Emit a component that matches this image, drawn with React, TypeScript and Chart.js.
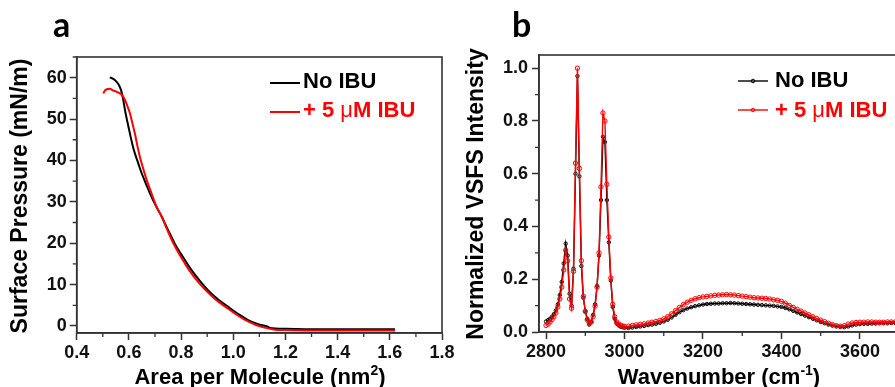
import React, { useEffect, useRef } from "react";
import { Chart, registerables } from "chart.js";

Chart.register(...registerables);

// ---------- Panel a: surface pressure isotherms ----------
const areaNoIbu = [
  0.527, 0.54, 0.553, 0.562, 0.57, 0.578, 0.585, 0.594, 0.604, 0.613, 0.623, 0.636,
  0.649, 0.665, 0.681, 0.703, 0.726, 0.751, 0.776, 0.808, 0.84, 0.872, 0.904, 0.942,
  0.981, 1.019, 1.057, 1.095, 1.134, 1.14, 1.2, 1.3, 1.4, 1.5, 1.62,
];
const pressureNoIbu = [
  60.1, 59.7, 59.0, 58.2, 57.0, 54.8, 52.2, 49.4, 46.5, 44.0, 41.7, 39.3,
  36.9, 34.4, 32.0, 29.1, 26.4, 23.1, 19.9, 16.6, 13.5, 10.9, 8.6, 6.4,
  4.6, 2.9, 1.4, 0.4, -0.2, -0.5, -0.7, -0.8, -0.8, -0.8, -0.8,
];
const areaIbu = [
  0.502, 0.508, 0.515, 0.527, 0.54, 0.553, 0.566, 0.576, 0.585, 0.594, 0.604, 0.613,
  0.623, 0.632, 0.642, 0.655, 0.668, 0.687, 0.706, 0.726, 0.748, 0.771, 0.8, 0.831,
  0.862, 0.895, 0.932, 0.971, 1.009, 1.047, 1.085, 1.12, 1.16, 1.2, 1.3, 1.4, 1.5, 1.62,
];
const pressureIbu = [
  56.2, 56.9, 57.2, 57.3, 56.9, 56.6, 56.2, 55.6, 54.6, 53.2, 51.4, 49.1,
  46.5, 43.7, 40.9, 38.0, 35.3, 32.0, 28.8, 26.4, 23.1, 19.9, 16.6, 13.5,
  10.9, 8.6, 6.4, 4.6, 2.9, 1.4, 0.3, -0.4, -0.9, -1.0, -1.1, -1.1, -1.1, -1.1,
];

// ---------- Panel b: VSFS spectra ----------
const wavenumbers = [
  2800, 2805, 2810, 2815, 2820, 2825, 2830, 2835, 2840, 2845,
  2850, 2855, 2860, 2865, 2870, 2875, 2880, 2885, 2890, 2895,
  2900, 2905, 2910, 2915, 2920, 2925, 2930, 2935, 2940, 2945,
  2950, 2955, 2960, 2965, 2970, 2975, 2980, 2985, 2990, 2995,
  3000, 3010, 3020, 3030, 3040, 3050, 3060, 3070, 3080, 3090,
  3100, 3110, 3120, 3130, 3140, 3150, 3160, 3170, 3180, 3190,
  3200, 3210, 3220, 3230, 3240, 3250, 3260, 3270, 3280, 3290,
  3300, 3310, 3320, 3330, 3340, 3350, 3360, 3370, 3380, 3390,
  3400, 3410, 3420, 3430, 3440, 3450, 3460, 3470, 3480, 3490,
  3500, 3510, 3520, 3530, 3540, 3550, 3560, 3570, 3580, 3590,
  3600, 3610, 3620, 3630, 3640, 3650, 3660, 3670, 3680, 3690,
  3700,
];
const intensityNoIbu = [
  0.040, 0.045, 0.050, 0.058, 0.068, 0.082, 0.105, 0.140, 0.190, 0.260,
  0.335, 0.290, 0.145, 0.100, 0.240, 0.600, 0.970, 0.590, 0.250, 0.130,
  0.080, 0.050, 0.028, 0.038, 0.065, 0.105, 0.175, 0.290, 0.500, 0.740,
  0.720, 0.500, 0.340, 0.195, 0.095, 0.050, 0.032, 0.025, 0.020, 0.018,
  0.016, 0.015, 0.017, 0.019, 0.021, 0.023, 0.026, 0.028, 0.031, 0.035,
  0.040, 0.046, 0.055, 0.065, 0.075, 0.083, 0.089, 0.094, 0.098, 0.101,
  0.104, 0.106, 0.107, 0.108, 0.108, 0.109, 0.109, 0.110, 0.109, 0.108,
  0.107, 0.106, 0.105, 0.104, 0.103, 0.102, 0.101, 0.100, 0.099, 0.097,
  0.095, 0.091, 0.086, 0.080, 0.074, 0.068, 0.062, 0.056, 0.050, 0.044,
  0.038, 0.033, 0.028, 0.024, 0.021, 0.019, 0.018, 0.021, 0.025, 0.028,
  0.030, 0.031, 0.031, 0.032, 0.032, 0.033, 0.033, 0.033, 0.034, 0.034,
  0.034,
];
const intensityIbu = [
  0.025, 0.030, 0.038, 0.047, 0.058, 0.072, 0.095, 0.125, 0.170, 0.235,
  0.310, 0.270, 0.125, 0.090, 0.230, 0.640, 1.000, 0.620, 0.270, 0.135,
  0.078, 0.046, 0.035, 0.038, 0.058, 0.098, 0.170, 0.300, 0.550, 0.830,
  0.800, 0.560, 0.360, 0.205, 0.105, 0.058, 0.038, 0.030, 0.026, 0.023,
  0.021, 0.022, 0.025, 0.027, 0.029, 0.031, 0.034, 0.037, 0.040, 0.044,
  0.050, 0.058, 0.069, 0.081, 0.093, 0.104, 0.113, 0.120, 0.126, 0.130,
  0.133, 0.135, 0.137, 0.139, 0.140, 0.141, 0.142, 0.141, 0.140, 0.138,
  0.136, 0.134, 0.132, 0.130, 0.129, 0.128, 0.127, 0.125, 0.122, 0.120,
  0.116, 0.109, 0.101, 0.093, 0.086, 0.079, 0.072, 0.065, 0.058, 0.051,
  0.045, 0.039, 0.033, 0.028, 0.024, 0.022, 0.024, 0.030, 0.034, 0.036,
  0.037, 0.037, 0.038, 0.038, 0.037, 0.037, 0.037, 0.038, 0.038, 0.038,
  0.038,
];

const labelNoIbu = "No IBU";
const labelIbu = "+ 5 μM IBU";

// ---------- styling ----------
const SANS = '"Liberation Sans", Arial, Helvetica, sans-serif';
const AXIS = "#333333";
const RED = "#ff0000";
const BLACK = "#000000";

type Part = { t: string; sup?: boolean; normal?: boolean };

function partFont(p: Part, size: number) {
  const s = p.sup ? Math.round(size * 0.62) : size;
  return `${p.normal ? "normal" : "bold"} ${s}px ${SANS}`;
}
function measureParts(ctx: CanvasRenderingContext2D, parts: Part[], size: number) {
  let w = 0;
  for (const p of parts) {
    ctx.font = partFont(p, size);
    w += ctx.measureText(p.t).width;
  }
  return w;
}
function drawParts(ctx: CanvasRenderingContext2D, parts: Part[], x: number, y: number, size: number, color: string) {
  ctx.fillStyle = color;
  ctx.textAlign = "left";
  ctx.textBaseline = "alphabetic";
  let cx = x;
  for (const p of parts) {
    ctx.font = partFont(p, size);
    ctx.fillText(p.t, cx, p.sup ? y - size * 0.42 : y);
    cx += ctx.measureText(p.t).width;
  }
}

// split legend label so μ is drawn in a lighter (symbol-like) weight
function labelParts(label: string): Part[] {
  const out: Part[] = [];
  let buf = "";
  for (const ch of label) {
    if (ch === "μ") {
      if (buf) out.push({ t: buf });
      buf = "";
      out.push({ t: ch, normal: true });
    } else buf += ch;
  }
  if (buf) out.push({ t: buf });
  return out;
}

function minorValues(scale: any): number[] {
  const ticks = scale.ticks.map((t: any) => t.value);
  const res: number[] = [];
  if (ticks.length < 2) return res;
  const step = ticks[1] - ticks[0];
  const first = ticks[0] - step / 2;
  if (first >= scale.min) res.push(first);
  for (let i = 0; i < ticks.length - 1; i++) res.push((ticks[i] + ticks[i + 1]) / 2);
  const last = ticks[ticks.length - 1] + step / 2;
  if (last <= scale.max) res.push(last);
  return res;
}

const decorPlugin = {
  id: "decor",
  afterDraw(chart: any, _args: any, opts: any) {
    const ctx: CanvasRenderingContext2D = chart.ctx;
    const a = chart.chartArea;
    ctx.save();
    // frame
    ctx.strokeStyle = AXIS;
    ctx.lineWidth = 1.6;
    ctx.strokeRect(a.left, a.top, a.right - a.left, a.bottom - a.top);
    // minor ticks
    const xs = chart.scales.x;
    const ys = chart.scales.y;
    ctx.lineWidth = 1.3;
    ctx.beginPath();
    for (const v of minorValues(xs)) {
      const p = xs.getPixelForValue(v);
      ctx.moveTo(p, a.bottom);
      ctx.lineTo(p, a.bottom + 4);
    }
    for (const v of minorValues(ys)) {
      const p = ys.getPixelForValue(v);
      ctx.moveTo(a.left - 4, p);
      ctx.lineTo(a.left, p);
    }
    ctx.stroke();

    // panel letter
    ctx.fillStyle = "#000";
    ctx.font = `bold 34px Lato, "Open Sans", ${SANS}`;
    ctx.textAlign = "left";
    ctx.textBaseline = "alphabetic";
    ctx.fillText(opts.letter, opts.letterX, opts.letterY);

    // x title
    const xt = opts.xTitle;
    const wx = measureParts(ctx, xt.parts, xt.size);
    drawParts(ctx, xt.parts, xt.cx - wx / 2, xt.baseline, xt.size, "#000");
    // y title (rotated)
    const yt = opts.yTitle;
    const wy = measureParts(ctx, yt.parts, yt.size);
    ctx.save();
    ctx.translate(yt.baseline, yt.cy);
    ctx.rotate(-Math.PI / 2);
    drawParts(ctx, yt.parts, -wy / 2, 0, yt.size, "#000");
    ctx.restore();

    // legend
    const lg = opts.legend;
    chart.data.datasets.forEach((ds: any, i: number) => {
      const item = lg.items[i];
      ctx.strokeStyle = ds.borderColor;
      ctx.lineWidth = ds.borderWidth;
      ctx.beginPath();
      ctx.moveTo(lg.x0, item.lineY);
      ctx.lineTo(lg.x1, item.lineY);
      ctx.stroke();
      if (lg.marker) {
        ctx.lineWidth = 1;
        ctx.beginPath();
        ctx.arc((lg.x0 + lg.x1) / 2, item.lineY, 1.8, 0, Math.PI * 2);
        ctx.stroke();
      }
      drawParts(ctx, labelParts(ds.label), lg.textX, item.baseline, lg.size, ds.borderColor);
    });
    ctx.restore();
  },
};

const tickFont = { family: SANS, size: 18, weight: "bold" as const };

function pts(xs: number[], ys: number[]) {
  return xs.map((x, i) => ({ x, y: ys[i] }));
}

export default function App() {
  const leftRef = useRef<HTMLCanvasElement>(null);
  const rightRef = useRef<HTMLCanvasElement>(null);

  useEffect(() => {
    const left = new Chart(leftRef.current!, {
      type: "line",
      data: {
        datasets: [
          {
            label: labelNoIbu,
            data: pts(areaNoIbu, pressureNoIbu),
            borderColor: BLACK,
            borderWidth: 2,
            pointRadius: 0,
            cubicInterpolationMode: "monotone",
            order: 1,
          },
          {
            label: labelIbu,
            data: pts(areaIbu, pressureIbu),
            borderColor: RED,
            borderWidth: 2,
            pointRadius: 0,
            cubicInterpolationMode: "monotone",
            order: 0,
          },
        ],
      },
      options: {
        responsive: false,
        maintainAspectRatio: false,
        animation: false,
        events: [],
        layout: { padding: { top: 57, right: 20, left: 0, bottom: 0 } },
        plugins: {
          legend: { display: false },
          tooltip: { enabled: false },
          decor: {
            letter: "a",
            letterX: 53,
            letterY: 37,
            xTitle: { parts: [{ t: "Area per Molecule (nm" }, { t: "2", sup: true }, { t: ")" }], size: 22, cx: 260, baseline: 384 },
            yTitle: { parts: [{ t: "Surface Pressure (mN/m)" }], size: 23, baseline: 27, cy: 196 },
            legend: {
              x0: 270, x1: 300, textX: 303, size: 22, marker: false,
              items: [
                { lineY: 83, baseline: 88 },
                { lineY: 112, baseline: 117 },
              ],
            },
          },
        } as any,
        scales: {
          x: {
            type: "linear",
            min: 0.4,
            max: 1.8,
            afterFit: (s: any) => { s.height = 54; },
            ticks: {
              stepSize: 0.2,
              includeBounds: false,
              font: tickFont,
              color: "#111",
              padding: 2,
              maxRotation: 0,
              callback: (v: any) => Number(v).toFixed(1),
            },
            grid: { display: true, drawOnChartArea: false, drawTicks: true, tickLength: 7, tickColor: AXIS, tickWidth: 1.5 },
            border: { display: true, color: AXIS, width: 1.6 },
          },
          y: {
            type: "linear",
            min: -1.7,
            max: 65,
            afterFit: (s: any) => { s.width = 76.7; },
            ticks: {
              stepSize: 10,
              includeBounds: false,
              font: tickFont,
              color: "#111",
              padding: 3,
              callback: (v: any) => String(Math.round(Number(v))),
            },
            grid: { display: true, drawOnChartArea: false, drawTicks: true, tickLength: 7, tickColor: AXIS, tickWidth: 1.5 },
            border: { display: true, color: AXIS, width: 1.6 },
          },
        },
      },
      plugins: [decorPlugin as any],
    } as any);

    const right = new Chart(rightRef.current!, {
      type: "line",
      data: {
        datasets: [
          {
            label: labelNoIbu,
            data: pts(wavenumbers, intensityNoIbu),
            borderColor: BLACK,
            borderWidth: 1.4,
            pointRadius: 1.7,
            pointBorderWidth: 1,
            pointBorderColor: BLACK,
            pointBackgroundColor: "rgba(255,255,255,0)",
            tension: 0,
            order: 1,
          },
          {
            label: labelIbu,
            data: pts(wavenumbers, intensityIbu),
            borderColor: RED,
            borderWidth: 1.4,
            pointRadius: 2.2,
            pointBorderWidth: 1,
            pointBorderColor: RED,
            pointBackgroundColor: "rgba(255,255,255,0)",
            tension: 0,
            order: 0,
          },
        ],
      },
      options: {
        responsive: false,
        maintainAspectRatio: false,
        animation: false,
        events: [],
        layout: { padding: { top: 55, right: 1, left: 0, bottom: 0 } },
        plugins: {
          legend: { display: false },
          tooltip: { enabled: false },
          decor: {
            letter: "b",
            letterX: 62,
            letterY: 37,
            xTitle: { parts: [{ t: "Wavenumber (cm" }, { t: "-1", sup: true }, { t: ")" }], size: 22, cx: 269, baseline: 384 },
            yTitle: { parts: [{ t: "Normalized VSFS Intensity" }], size: 23, baseline: 33, cy: 194 },
            legend: {
              x0: 288, x1: 318, textX: 325, size: 22, marker: true,
              items: [
                { lineY: 81, baseline: 87 },
                { lineY: 110, baseline: 117 },
              ],
            },
          },
        } as any,
        scales: {
          x: {
            type: "linear",
            min: 2782,
            max: 3720,
            afterFit: (s: any) => { s.height = 55; },
            ticks: {
              stepSize: 200,
              includeBounds: false,
              font: tickFont,
              color: "#111",
              padding: 2,
              maxRotation: 0,
              callback: (v: any) => String(Math.round(Number(v))),
            },
            grid: { display: true, drawOnChartArea: false, drawTicks: true, tickLength: 7, tickColor: AXIS, tickWidth: 1.5 },
            border: { display: true, color: AXIS, width: 1.6 },
          },
          y: {
            type: "linear",
            min: 0,
            max: 1.05,
            afterFit: (s: any) => { s.width = 89; },
            ticks: {
              stepSize: 0.2,
              includeBounds: false,
              font: tickFont,
              color: "#111",
              padding: 4,
              callback: (v: any) => Number(v).toFixed(1),
            },
            grid: { display: true, drawOnChartArea: false, drawTicks: true, tickLength: 7, tickColor: AXIS, tickWidth: 1.5 },
            border: { display: true, color: AXIS, width: 1.6 },
          },
        },
      },
      plugins: [decorPlugin as any],
    } as any);

    return () => {
      left.destroy();
      right.destroy();
    };
  }, []);

  return (
    <div
      style={{
        position: "absolute",
        left: 0,
        top: 0,
        width: 895,
        height: 387,
        overflow: "hidden",
        background: "#ffffff",
      }}
    >
      <canvas ref={leftRef} width={462} height={387} style={{ position: "absolute", left: 0, top: 0 }} />
      <canvas ref={rightRef} width={462} height={387} style={{ position: "absolute", left: 450, top: 0 }} />
    </div>
  );
}
